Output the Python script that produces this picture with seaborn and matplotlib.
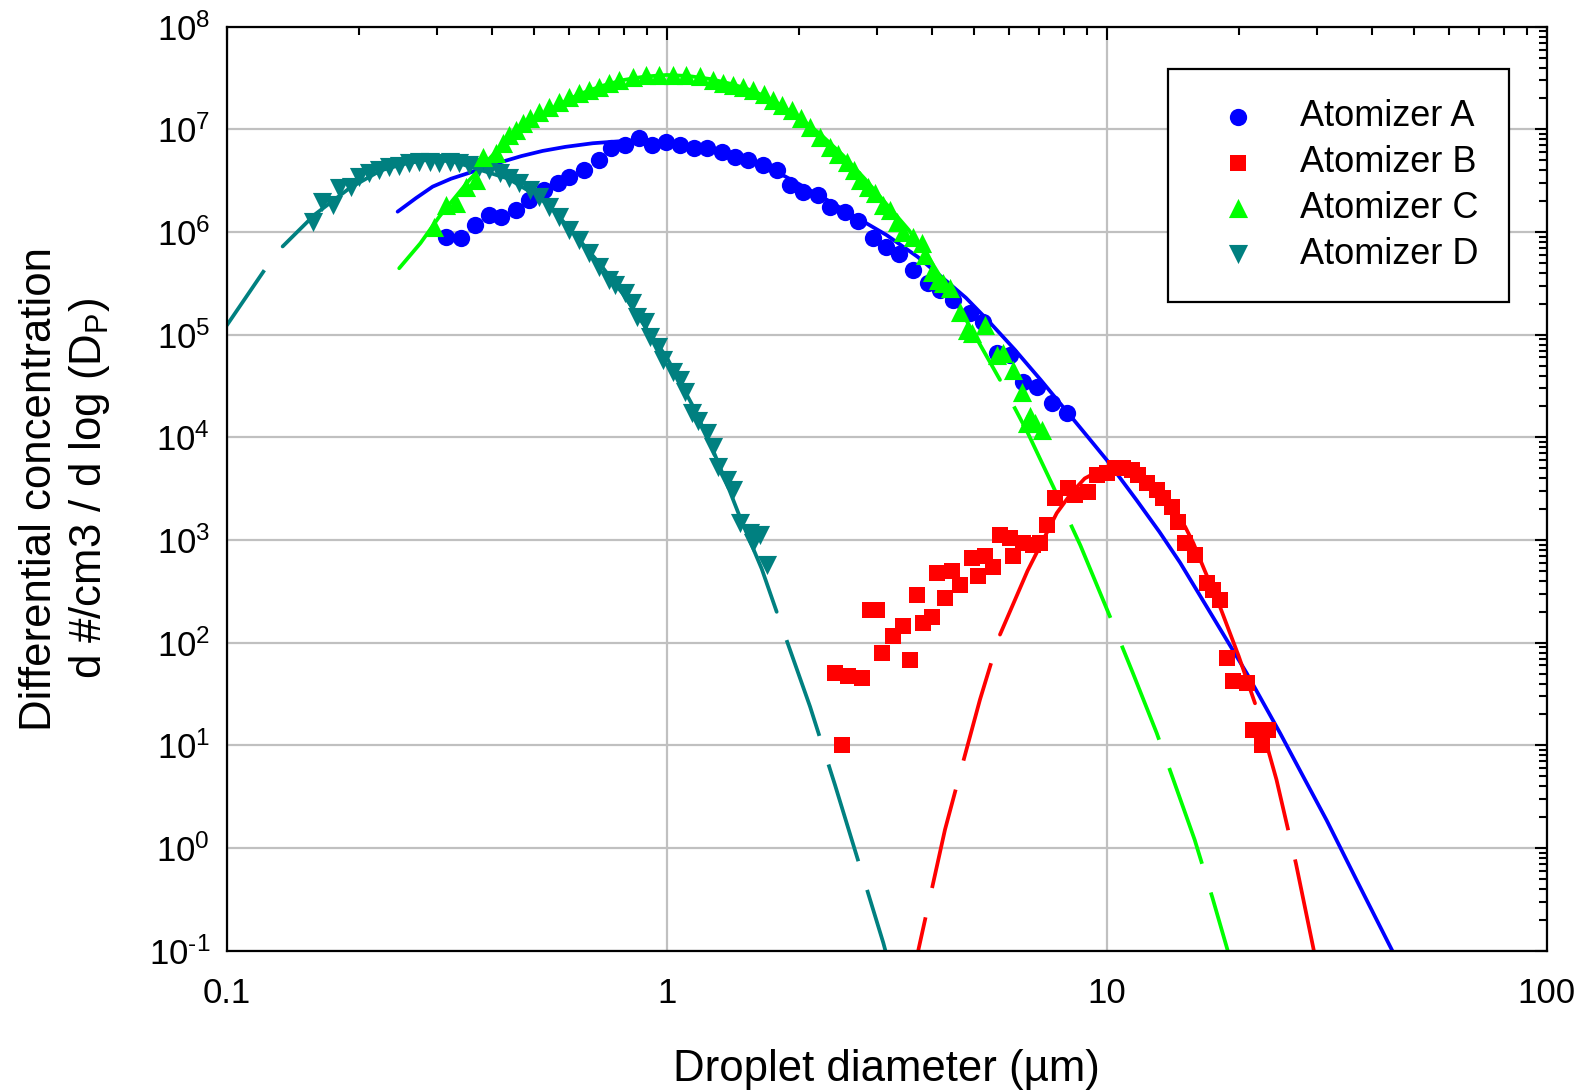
import matplotlib
matplotlib.use("Agg")
import matplotlib.pyplot as plt
import seaborn as sns
import pandas as pd
from matplotlib.ticker import LogLocator, FixedLocator, FixedFormatter, FuncFormatter, NullFormatter
import math

# ---------------- data ----------------
series_names = ["Atomizer A", "Atomizer B", "Atomizer C", "Atomizer D"]

a_x = [0.315, 0.341, 0.366, 0.395, 0.420, 0.454, 0.487, 0.527, 0.565, 0.601,
       0.650, 0.702, 0.748, 0.803, 0.864, 0.927, 0.994, 1.070, 1.152, 1.236,
       1.337, 1.429, 1.533, 1.658, 1.778, 1.905, 2.044, 2.211, 2.350, 2.541,
       2.726, 2.938, 3.148, 3.373, 3.635, 3.931, 4.178, 4.481, 4.887, 5.243,
       5.623, 6.026, 6.464, 6.934, 7.499, 8.110]
a_y = [9.02e5, 8.71e5, 1.17e6, 1.47e6, 1.41e6, 1.64e6, 2.06e6, 2.57e6, 2.99e6, 3.47e6,
       4.03e6, 5.04e6, 6.55e6, 7.05e6, 8.18e6, 7.05e6, 7.59e6, 7.05e6, 6.55e6, 6.55e6,
       6.07e6, 5.42e6, 5.04e6, 4.50e6, 4.03e6, 2.88e6, 2.47e6, 2.30e6, 1.77e6, 1.58e6,
       1.29e6, 8.71e5, 7.21e5, 6.10e5, 4.28e5, 3.18e5, 2.73e5, 2.18e5, 1.62e5, 1.34e5,
       6.61e4, 6.35e4, 3.49e4, 3.13e4, 2.15e4, 1.72e4]

b_x = [2.412, 2.587, 2.775, 2.498, 2.897, 3.001, 3.080, 3.273, 3.449, 3.573,
       3.698, 3.831, 4.003, 4.108, 4.290, 4.443, 4.640, 4.932, 5.105, 5.289,
       5.525, 5.721, 6.026, 6.134, 6.464, 6.808, 7.047, 7.305, 7.630, 8.180,
       8.472, 9.083, 9.484, 10.00, 10.45, 10.91, 11.40, 11.80, 12.33, 12.99,
       13.45, 14.05, 14.55, 15.07, 15.88, 16.87, 17.46, 18.09, 18.74, 19.40,
       20.80, 21.53, 23.28, 22.50]
b_y = [50.6, 46.9, 45.2, 10.1, 209, 209, 79.3, 115, 144, 68.2,
       293, 155, 180, 476, 272, 494, 366, 667, 442, 692,
       552, 1122, 1042, 692, 933, 897, 933, 1406, 2559, 3199,
       2754, 2965, 4315, 4477, 5012, 5012, 4831, 4315, 3581, 3083,
       2559, 2118, 1514, 933, 718, 380, 327, 262, 70.8, 41.9,
       40.4, 14.2, 14.2, 10.1]

c_x = [0.296, 0.315, 0.332, 0.350, 0.369, 0.382, 0.409, 0.424, 0.439, 0.454,
       0.471, 0.488, 0.513, 0.541, 0.570, 0.601, 0.632, 0.667, 0.703, 0.741,
       0.780, 0.838, 0.897, 0.962, 1.032, 1.107, 1.189, 1.276, 1.343, 1.417,
       1.493, 1.574, 1.660, 1.747, 1.828, 1.923, 2.018, 2.117, 2.228, 2.350,
       2.455, 2.564, 2.661, 2.750, 2.861, 2.975, 3.107, 3.218, 3.333, 3.450,
       3.635, 3.798, 3.864, 4.003, 4.145, 4.254, 4.405, 4.640, 4.805, 4.932,
       5.289, 5.623, 5.821, 6.134, 6.410, 6.577, 6.695, 6.871, 7.115]
c_y = [1.13e6, 1.84e6, 1.91e6, 2.77e6, 3.21e6, 5.42e6, 5.85e6, 7.33e6, 8.83e6, 9.86e6,
       1.15e7, 1.29e7, 1.48e7, 1.66e7, 1.86e7, 2.09e7, 2.24e7, 2.42e7, 2.61e7, 2.81e7,
       3.02e7, 3.26e7, 3.39e7, 3.39e7, 3.39e7, 3.39e7, 3.31e7, 3.03e7, 2.82e7, 2.70e7,
       2.57e7, 2.42e7, 2.19e7, 1.93e7, 1.74e7, 1.55e7, 1.29e7, 1.06e7, 8.51e6, 6.79e6,
       5.75e6, 4.84e6, 3.98e6, 3.21e6, 2.75e6, 2.39e6, 1.84e6, 1.64e6, 1.26e6, 1.01e6,
       9.02e5, 7.78e5, 5.98e5, 4.11e5, 3.42e5, 3.16e5, 2.84e5, 1.68e5, 1.11e5, 1.04e5,
       1.24e5, 6.35e4, 6.61e4, 4.54e4, 2.79e4, 1.37e4, 1.60e4, 1.37e4, 1.18e4]

d_x = [0.157, 0.165, 0.174, 0.180, 0.192, 0.200, 0.211, 0.222, 0.234, 0.247,
       0.260, 0.274, 0.289, 0.304, 0.321, 0.338, 0.356, 0.375, 0.395, 0.417,
       0.439, 0.462, 0.488, 0.513, 0.541, 0.570, 0.601, 0.633, 0.667, 0.703,
       0.741, 0.763, 0.805, 0.833, 0.855, 0.893, 0.916, 0.957, 0.982, 1.035,
       1.072, 1.100, 1.140, 1.180, 1.233, 1.276, 1.309, 1.368, 1.416, 1.468,
       1.545, 1.574, 1.629, 1.687]
d_y = [1.26e6, 1.98e6, 1.84e6, 2.67e6, 2.77e6, 3.47e6, 3.73e6, 4.03e6, 4.34e6, 4.37e6,
       4.68e6, 4.85e6, 4.85e6, 4.68e6, 4.85e6, 4.68e6, 4.47e6, 4.34e6, 4.03e6, 3.73e6,
       3.34e6, 2.99e6, 2.57e6, 2.21e6, 1.77e6, 1.41e6, 1.05e6, 8.38e5, 6.22e5, 4.60e5,
       3.42e5, 3.05e5, 2.54e5, 2.03e5, 1.50e5, 1.34e5, 9.59e4, 7.66e4, 5.69e4, 4.38e4,
       3.63e4, 2.79e4, 1.72e4, 1.43e4, 1.10e4, 8.13e3, 5.20e3, 3.85e3, 3.08e3, 1.46e3,
       1.17e3, 933, 1.12e3, 573]

# fitted curves
a_fit_x = [0.2446, 0.2692, 0.2938, 0.3236, 0.3622, 0.3981, 0.4236, 0.4677, 0.5224, 0.5888,
           0.6792, 0.8128, 1.0, 1.259, 1.585, 1.862, 2.239, 2.754, 3.162, 3.715,
           4.169, 4.786, 5.370, 6.166, 7.079, 7.943, 8.913, 10.0, 11.69, 13.18,
           14.68, 17.38, 20.80, 24.77, 28.18, 31.62, 37.15, 44.57]
a_fit_y = [1.58e6, 2.14e6, 2.77e6, 3.31e6, 3.87e6, 4.42e6, 4.85e6, 5.50e6, 6.17e6, 6.76e6,
           7.33e6, 7.76e6, 7.59e6, 6.46e6, 4.79e6, 3.47e6, 2.24e6, 1.32e6, 9.33e5, 5.75e5,
           3.80e5, 2.29e5, 1.38e5, 7.24e4, 3.63e4, 2.00e4, 1.10e4, 6.03e3, 2.45e3, 1.20e3,
           603, 182, 50.6, 13.2, 4.68, 1.86, 0.468, 0.1]

b_fit_x = [3.729, 3.981, 4.290, 4.677, 5.152, 5.433, 5.721, 6.607, 7.698, 8.318,
           8.913, 9.661, 10.47, 11.22, 12.02, 13.49, 15.07, 15.74, 16.60, 18.09,
           19.95, 21.73, 22.91, 24.32, 26.92, 29.57]
b_fit_y = [0.1, 0.355, 1.51, 6.03, 27.9, 58.9, 120, 501, 1828, 2884,
           3981, 4786, 5248, 5012, 4169, 2630, 1352, 933, 537, 224,
           74.1, 25.7, 11.5, 4.62, 0.708, 0.1]

c_fit_x = [0.2466, 0.2754, 0.3041, 0.3548, 0.4169, 0.4571, 0.5012, 0.5623, 0.6310, 0.7079,
           0.7943, 0.8913, 1.0, 1.122, 1.259, 1.413, 1.585, 1.778, 1.995, 2.239,
           2.512, 2.818, 3.162, 3.548, 3.981, 4.640, 5.721, 6.607, 7.560, 8.710,
           10.17, 11.48, 12.99, 14.17, 15.85, 17.38, 18.84]
c_fit_y = [4.44e5, 7.76e5, 1.41e6, 3.16e6, 6.61e6, 9.33e6, 1.26e7, 1.70e7, 2.19e7, 2.63e7,
           3.02e7, 3.27e7, 3.39e7, 3.31e7, 3.09e7, 2.75e7, 2.34e7, 1.82e7, 1.32e7, 8.91e6,
           5.62e6, 3.31e6, 1.86e6, 1.05e6, 5.25e5, 1.78e5, 3.63e4, 1.12e4, 3.31e3, 891,
           180, 50.1, 13.2, 4.65, 1.20, 0.331, 0.1]

d_fit_x = [0.1, 0.125, 0.134, 0.1585, 0.1905, 0.2239, 0.2512, 0.2818, 0.3055, 0.3311,
           0.3802, 0.4365, 0.5129, 0.5559, 0.6026, 0.7079, 0.7943, 0.912, 1.0, 1.148,
           1.259, 1.393, 1.468, 1.644, 1.778, 1.874, 2.117, 2.412, 3.107, 3.141]
d_fit_y = [1.23e5, 5.01e5, 7.24e5, 1.48e6, 2.69e6, 3.98e6, 4.57e6, 5.01e6, 5.01e6, 4.79e6,
           3.98e6, 3.31e6, 2.19e6, 1.58e6, 1.07e6, 4.79e5, 2.51e5, 1.05e5, 6.03e4, 2.00e4,
           8.51e3, 2.95e3, 1.66e3, 525, 200, 105, 23.9, 4.13, 0.119, 0.1]

x_ticks = [0.1, 1, 10, 100]
x_tick_labels = ["0.1", "1", "10", "100"]

# ---------------- style ----------------
colors = {"Atomizer A": "#0000FF", "Atomizer B": "#FF0000",
          "Atomizer C": "#00FF00", "Atomizer D": "#008080"}
markers = {"Atomizer A": "o", "Atomizer B": "s", "Atomizer C": "^", "Atomizer D": "v"}
msizes = {"Atomizer A": 155, "Atomizer B": 130, "Atomizer C": 190, "Atomizer D": 190}
# x-range over which each fitted curve is drawn solid (dashed outside)
solid_range = {"Atomizer A": (0.2446, 44.57), "Atomizer B": (5.721, 21.73),
               "Atomizer C": (0.2466, 5.721), "Atomizer D": (0.134, 1.778)}

sns.set_style("white")
plt.rcParams["font.family"] = ["Liberation Sans", "DejaVu Sans"]
plt.rcParams["mathtext.fontset"] = "custom"
plt.rcParams["mathtext.rm"] = "Liberation Sans"
plt.rcParams["mathtext.it"] = "Liberation Sans:italic"
plt.rcParams["mathtext.bf"] = "Liberation Sans:bold"
plt.rcParams["axes.unicode_minus"] = False
for key in ["text.color", "axes.labelcolor", "xtick.color", "ytick.color", "axes.edgecolor"]:
    plt.rcParams[key] = "black"

fig = plt.figure(figsize=(15.81, 10.91), dpi=100)
ax = fig.add_axes([0.1434, 0.1286, 0.8349, 0.8469])
ax.set_xscale("log")
ax.set_yscale("log")

LW = 2.7
DASH = (27, 8)

fits = {"Atomizer A": (a_fit_x, a_fit_y), "Atomizer B": (b_fit_x, b_fit_y),
        "Atomizer C": (c_fit_x, c_fit_y), "Atomizer D": (d_fit_x, d_fit_y)}

for name in series_names:
    fx, fy = fits[name]
    lo, hi = solid_range[name]
    df = pd.DataFrame({"x": fx, "y": fy})
    solid = df[(df.x >= lo) & (df.x <= hi)]
    left = df[df.x <= lo].iloc[::-1]
    right = df[df.x >= hi]
    sns.lineplot(data=solid, x="x", y="y", sort=False, estimator=None, color=colors[name],
                 linewidth=LW, ax=ax, legend=False, zorder=2)
    for part in (left, right):
        if len(part) > 1:
            sns.lineplot(data=part, x="x", y="y", sort=False, estimator=None, color=colors[name],
                         linewidth=LW, ax=ax, legend=False, zorder=2,
                         linestyle=(DASH[0], DASH), dash_capstyle="butt")

pts = {"Atomizer A": (a_x, a_y), "Atomizer B": (b_x, b_y),
       "Atomizer C": (c_x, c_y), "Atomizer D": (d_x, d_y)}
for name in ["Atomizer A", "Atomizer B", "Atomizer D", "Atomizer C"]:
    px, py = pts[name]
    sns.scatterplot(x=px, y=py, color=colors[name], marker=markers[name], s=msizes[name],
                    linewidth=0, ax=ax, label=name, zorder=3)

ax.set_xlim(0.1, 100)
ax.set_ylim(0.1, 1e8)


def pow10_label(v, pos):
    e = int(round(math.log10(v)))
    es = str(e).replace("-", "\u2010")
    return r"$\mathdefault{10^{%s}}$" % es


ax.xaxis.set_major_locator(FixedLocator(x_ticks))
ax.xaxis.set_major_formatter(FixedFormatter(x_tick_labels))
ax.xaxis.set_minor_locator(LogLocator(base=10, subs=range(2, 10), numticks=20))
ax.xaxis.set_minor_formatter(NullFormatter())
ax.yaxis.set_major_locator(LogLocator(base=10, numticks=20))
ax.yaxis.set_major_formatter(FuncFormatter(pow10_label))
ax.yaxis.set_minor_locator(LogLocator(base=10, subs=range(2, 10), numticks=20))
ax.yaxis.set_minor_formatter(NullFormatter())

ax.grid(True, which="major", color="#c0c0c0", linewidth=1.6)
ax.set_axisbelow(True)
for sp in ax.spines.values():
    sp.set_color("black")
    sp.set_linewidth(1.6)

ax.tick_params(which="both", direction="in", top=True, right=True, color="black")
ax.tick_params(which="major", length=9, width=1.5, labelsize=25)
ax.tick_params(axis="x", which="major", pad=19)
ax.tick_params(axis="y", which="major", pad=12)
ax.tick_params(which="minor", length=6, width=1.5)

ax.set_xlabel("Droplet diameter (µm)", fontsize=31.5, labelpad=28)
ax.set_ylabel("Differential concentration\nd #/cm3 / d log (D$_\\mathregular{P}$)",
              fontsize=31.5, labelpad=26, linespacing=1.22)

# legend: markers only, in the order A-D
handles, labels = ax.get_legend_handles_labels()
order = [labels.index(n) for n in series_names]
leg = ax.legend([handles[i] for i in order], [labels[i] for i in order],
                loc="upper right", bbox_to_anchor=(0.9717, 0.9547), borderaxespad=0,
                fontsize=26, frameon=True, fancybox=False, framealpha=1,
                edgecolor="black", borderpad=0.85, labelspacing=0.3,
                handlelength=2.15, handletextpad=0.65, markerscale=1.0)
leg.get_frame().set_linewidth(1.6)

fig.savefig("out.png", dpi=100)
